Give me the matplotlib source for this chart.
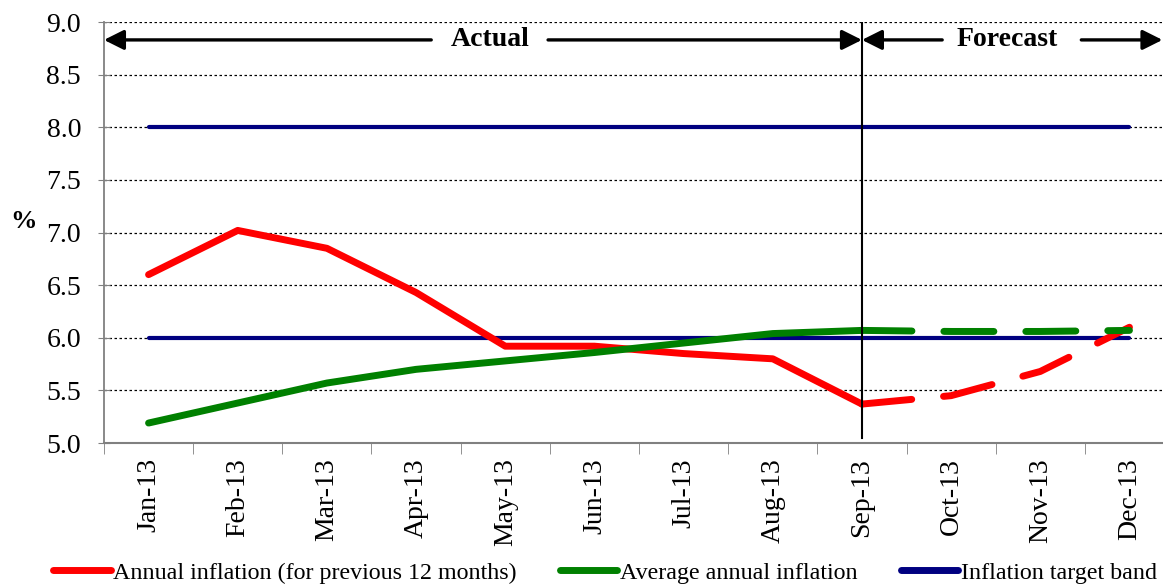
import matplotlib
matplotlib.use("Agg")
import matplotlib.pyplot as plt
import numpy as np

months = ["Jan-13", "Feb-13", "Mar-13", "Apr-13", "May-13", "Jun-13",
          "Jul-13", "Aug-13", "Sep-13", "Oct-13", "Nov-13", "Dec-13"]
annual = [6.60, 7.02, 6.85, 6.43, 5.92, 5.92, 5.85, 5.80, 5.37, 5.45, 5.68, 6.10]
average = [5.19, 5.38, 5.57, 5.70, 5.78, 5.86, 5.95, 6.04, 6.07, 6.06, 6.06, 6.07]
band_upper = [8.0] * 12
band_lower = [6.0] * 12
last_actual = 8  # Sep-13

plt.rcParams['font.family'] = ['Liberation Serif', 'DejaVu Serif']

fig = plt.figure(figsize=(11.63, 5.84), dpi=100)
ax = fig.add_axes([0.0894, 0.2414, 0.9201, 0.7209])

x = np.arange(len(months))
red = "#ff0000"
green = "#008000"
navy = "#000080"
lw = 5
dash = (7.2, 4.6)

ax.plot(x, band_upper, color=navy, lw=3, solid_capstyle='round', zorder=3)
ax.plot(x, band_lower, color=navy, lw=3, solid_capstyle='round', zorder=3)

k = last_actual
ax.plot(x[:k + 1], annual[:k + 1], color=red, lw=lw, solid_capstyle='round',
        solid_joinstyle='round', zorder=4)
ax.plot(x[k:], annual[k:], color=red, lw=lw, dashes=dash, dash_capstyle='round',
        zorder=4)
ax.plot(x[:k + 1], average[:k + 1], color=green, lw=lw, solid_capstyle='round',
        solid_joinstyle='round', zorder=5)
ax.plot(x[k:], average[k:], color=green, lw=lw, dashes=dash, dash_capstyle='round',
        zorder=5)

ax.axvline(k, ymin=0.012, ymax=1, color='black', lw=1.5, zorder=6)

ax.set_xlim(-0.5, 11.5)
ax.set_ylim(5.0, 9.0)
yt = np.arange(5.0, 9.01, 0.5)
ax.set_yticks(yt)
ax.set_yticklabels([f"{v:.1f}" for v in yt], fontsize=20)
ax.set_xticks(x)
ax.set_xticklabels(months, rotation=90, fontsize=20)
ax.set_xticks(np.arange(-0.5, 12, 1), minor=True)
ax.tick_params(axis='x', which='major', length=0, pad=11)
ax.tick_params(axis='x', which='minor', length=8, direction='out', color='#808080')
ax.tick_params(axis='y', length=9, direction='inout', color='#808080', pad=12)
ax.yaxis.grid(True, linestyle=(0, (2, 2)), color='black', lw=0.9)
ax.set_axisbelow(True)
for s in ['top', 'right']:
    ax.spines[s].set_visible(False)
ax.spines['left'].set_color('#808080')
ax.spines['left'].set_linewidth(1.3)
ax.spines['bottom'].set_color('#808080')
ax.spines['bottom'].set_linewidth(1.5)

# Actual / Forecast annotations
ya = 8.83
arrow = dict(arrowstyle='-|>', color='black', lw=2.4, mutation_scale=30,
             shrinkA=0, shrinkB=0)
ax.annotate('', xy=(-0.5, ya), xytext=(3.17, ya), arrowprops=arrow, annotation_clip=False)
ax.annotate('', xy=(8.0, ya), xytext=(4.48, ya), arrowprops=arrow)
ax.annotate('', xy=(8.0, ya), xytext=(8.9, ya), arrowprops=arrow)
ax.annotate('', xy=(11.37, ya), xytext=(10.46, ya), arrowprops=arrow, annotation_clip=False)
ax.text(3.83, ya, "Actual", ha='center', va='center', fontsize=20, fontweight='bold')
ax.text(9.63, ya, "Forecast", ha='center', va='center', fontsize=20, fontweight='bold')

fig.text(0.0203, 0.621, "%", fontsize=19, fontweight='bold', ha='center', va='center')

handles = [
    plt.Line2D([], [], color=red, lw=lw, solid_capstyle='round'),
    plt.Line2D([], [], color=green, lw=lw, solid_capstyle='round'),
    plt.Line2D([], [], color=navy, lw=lw, solid_capstyle='round'),
]
labels = ["Annual inflation (for previous 12 months)", "Average annual inflation",
          "Inflation target band"]
fig.legend(handles, labels, loc='center', bbox_to_anchor=(0.52, 0.019), ncol=3,
           frameon=False, fontsize=17.3, handlelength=2.4, handletextpad=0.1,
           columnspacing=1.8, borderaxespad=0)

fig.savefig("out.png", dpi=100)
